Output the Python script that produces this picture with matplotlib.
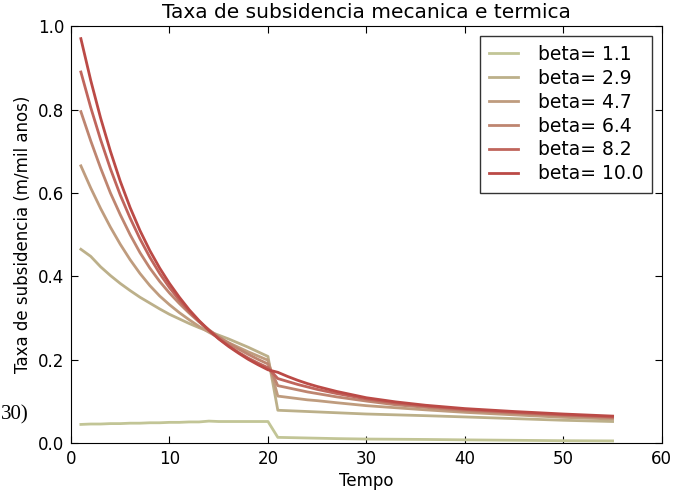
import numpy as np
import matplotlib
matplotlib.use("Agg")
import matplotlib.pyplot as plt

# tempos (mil anos) - fase mecanica e fase termica
t_mec = list(range(1, 21))
t_ter = [21, 22, 23, 24, 25, 27, 30, 33, 36, 40, 45, 50, 55]

betas = [1.1, 2.9, 4.7, 6.4, 8.2, 10.0]

# taxa de subsidencia
mec_11 = [0.045, 0.046, 0.046, 0.047, 0.047, 0.048, 0.048, 0.049, 0.049, 0.050,
          0.050, 0.051, 0.051, 0.053, 0.052, 0.052, 0.052, 0.052, 0.052, 0.052]
mec_29 = [0.465, 0.448, 0.423, 0.402, 0.383, 0.366, 0.350, 0.336, 0.322, 0.309,
          0.298, 0.287, 0.277, 0.268, 0.259, 0.250, 0.240, 0.230, 0.219, 0.208]
mec_47 = [0.665, 0.612, 0.563, 0.518, 0.477, 0.440, 0.407, 0.378, 0.353, 0.332,
          0.313, 0.296, 0.280, 0.266, 0.253, 0.241, 0.230, 0.219, 0.209, 0.199]
mec_64 = [0.795, 0.725, 0.660, 0.600, 0.548, 0.500, 0.457, 0.420, 0.388, 0.360,
          0.335, 0.312, 0.291, 0.272, 0.255, 0.240, 0.226, 0.213, 0.201, 0.190]
mec_82 = [0.890, 0.805, 0.728, 0.658, 0.595, 0.540, 0.490, 0.446, 0.407, 0.373,
          0.343, 0.316, 0.292, 0.270, 0.251, 0.234, 0.218, 0.204, 0.192, 0.181]
mec_100 = [0.970, 0.870, 0.780, 0.700, 0.628, 0.565, 0.510, 0.462, 0.420, 0.383,
           0.350, 0.320, 0.294, 0.271, 0.250, 0.232, 0.216, 0.201, 0.188, 0.176]

ter_11 = [0.014, 0.0135, 0.013, 0.0125, 0.012, 0.011, 0.010, 0.0095, 0.009, 0.008, 0.007, 0.006, 0.0055]
ter_29 = [0.079, 0.078, 0.077, 0.076, 0.075, 0.073, 0.070, 0.068, 0.066, 0.063, 0.059, 0.055, 0.052]
ter_47 = [0.113, 0.110, 0.107, 0.104, 0.102, 0.097, 0.090, 0.085, 0.080, 0.074, 0.068, 0.062, 0.058]
ter_64 = [0.138, 0.133, 0.128, 0.123, 0.119, 0.111, 0.101, 0.092, 0.086, 0.078, 0.072, 0.066, 0.061]
ter_82 = [0.155, 0.148, 0.141, 0.135, 0.129, 0.119, 0.106, 0.096, 0.089, 0.081, 0.074, 0.068, 0.063]
ter_100 = [0.170, 0.160, 0.151, 0.143, 0.136, 0.124, 0.109, 0.099, 0.091, 0.083, 0.076, 0.070, 0.065]

mec = [mec_11, mec_29, mec_47, mec_64, mec_82, mec_100]
ter = [ter_11, ter_29, ter_47, ter_64, ter_82, ter_100]
cores = ['#c2c596', '#bcb08a', '#bf9c7e', '#be8570', '#c0655c', '#bb4a46']

fig = plt.figure(figsize=(6.83, 4.93), dpi=100)
ax = fig.add_axes([0.104, 0.101, 0.865, 0.846])

for b, m, th, c in zip(betas, mec, ter, cores):
    ax.plot(t_mec + t_ter, m + th, color=c, lw=2, label='beta= %.1f' % b)

ax.set_xlim(0, 60)
ax.set_ylim(0, 1.0)
ax.set_xticks([0, 10, 20, 30, 40, 50, 60])
ax.set_yticks([0.0, 0.2, 0.4, 0.6, 0.8, 1.0])
ax.tick_params(direction='in', top=True, right=True, labelsize=12, length=5, pad=5)
ax.set_title('Taxa de subsidencia mecanica e termica', fontsize=14.5)
ax.set_xlabel('Tempo', fontsize=12, labelpad=3)
ax.set_ylabel('Taxa de subsidencia (m/mil anos)', fontsize=12)
leg = ax.legend(loc='upper right', fontsize=13.5, fancybox=False, handlelength=1.5,
                handletextpad=1.07, borderpad=0.5, labelspacing=0.26)
leg.get_frame().set_edgecolor('black')
leg.get_frame().set_linewidth(1.0)

fig.text(0.001, 0.158, '30)', fontsize=15, family='Liberation Serif', va='center')

fig.savefig('out.png', dpi=100)
